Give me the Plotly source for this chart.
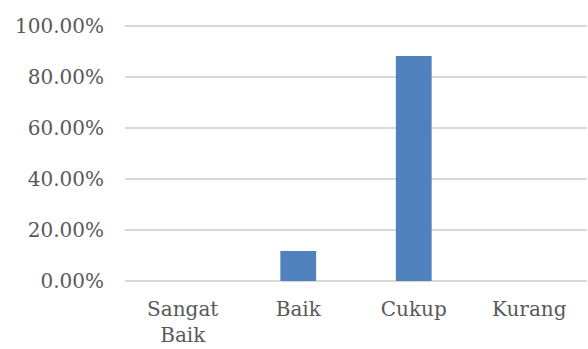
import plotly.graph_objects as go

categories = ["Sangat<br>Baik", "Baik", "Cukup", "Kurang"]
values = [0.0, 0.1176, 0.8824, 0.0]
tick_vals = [0, 0.2, 0.4, 0.6, 0.8, 1.0]
tick_text = ["0.00%", "20.00%", "40.00%", "60.00%", "80.00%", "100.00%"]

fig = go.Figure(go.Bar(x=categories, y=values, marker=dict(color="#4F81BD", line=dict(width=0))))

font = dict(family="DejaVu Serif", size=20, color="#595959")
fig.update_layout(
    width=588, height=349,
    margin=dict(l=125, r=1, t=21, b=68),
    paper_bgcolor="white", plot_bgcolor="white",
    bargap=0.69,
    showlegend=False,
    font=font,
)
fig.update_yaxes(range=[0, 1.02], tickvals=tick_vals, ticktext=tick_text,
                 showgrid=True, gridcolor="#D9D9D9", gridwidth=1.5,
                 zeroline=True, zerolinecolor="#D9D9D9", zerolinewidth=1.5,
                 showline=False, ticks="", ticklabelstandoff=20,
                 tickfont=font)
fig.update_xaxes(showgrid=False, showline=False, ticks="", ticklabelstandoff=14,
                 tickfont=font)

fig.write_html("out.html")
